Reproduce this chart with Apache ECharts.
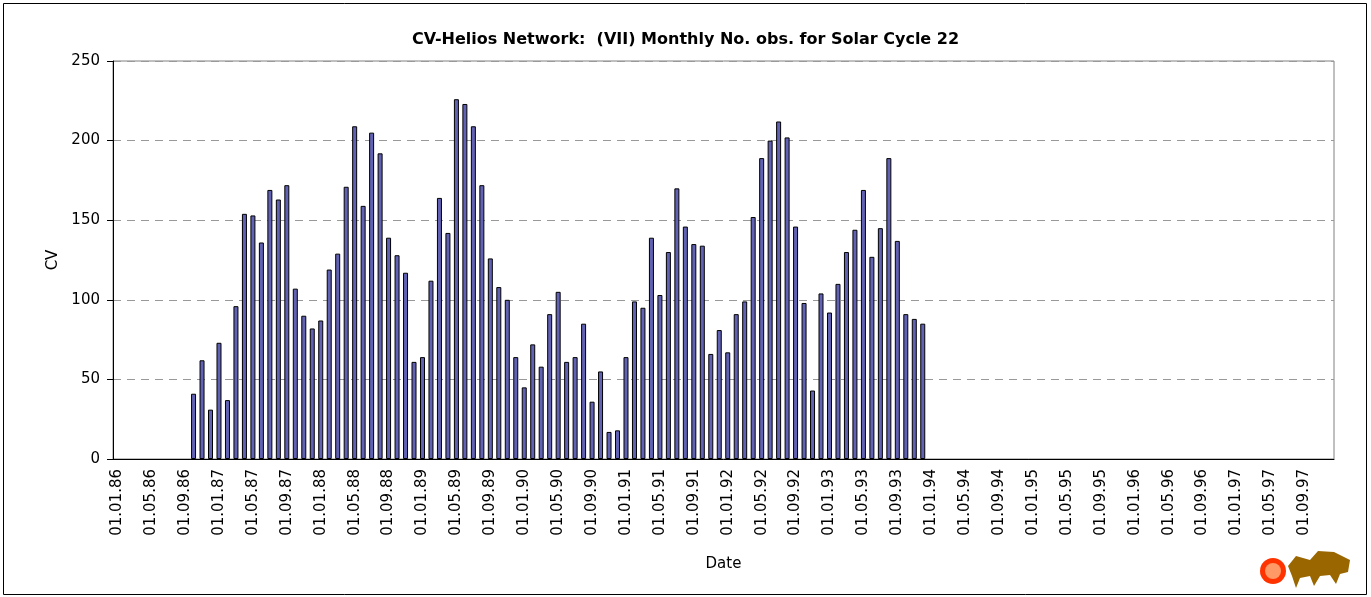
<!DOCTYPE html>
<html>
<head>
<meta charset="utf-8">
<script src="https://cdn.jsdelivr.net/npm/echarts@6/dist/echarts.min.js"></script>
<style>
  html, body { margin: 0; padding: 0; background: #fff; }
  #myChart { width: 1371px; height: 597px; }
</style>
</head>
<body>
<div id="myChart"></div>
<script>
// months on the axis: 01.01.86 .. 01.12.97
var years = ['86', '87', '88', '89', '90', '91', '92', '93', '94', '95', '96', '97'];
var months = ['01', '02', '03', '04', '05', '06', '07', '08', '09', '10', '11', '12'];

// first observed month is 10.86 (index 9 on the axis)
var firstIndex = 9;

// monthly number of observations, Oct 1986 .. Dec 1993
var obs = [
    41, 62, 31, 73, 37, 96, 154, 153, 136, 169, 163, 172,
    107, 90, 82, 87, 119, 129, 171, 209, 159, 205, 192, 139,
    128, 117, 61, 64, 112, 164, 142, 226, 223, 209, 172, 126,
    108, 100, 64, 45, 72, 58, 91, 105, 61, 64, 85, 36,
    55, 17, 18, 64, 99, 95, 139, 103, 130, 170, 146, 135,
    134, 66, 81, 67, 91, 99, 152, 189, 200, 212, 202, 146,
    98, 43, 104, 92, 110, 130, 144, 169, 127, 145, 189, 137,
    91, 88, 85
];

var yTicks = [0, 50, 100, 150, 200, 250];

var categories = [];
years.forEach(function (y) {
    months.forEach(function (m) {
        categories.push('01.' + m + '.' + y);
    });
});

var seriesData = categories.map(function (c, i) {
    var k = i - firstIndex;
    return (k >= 0 && k < obs.length) ? obs[k] : null;
});

var chart = echarts.init(document.getElementById('myChart'));
var font = 'DejaVu Sans, Verdana, sans-serif';

chart.setOption({
    animation: false,
    textStyle: { fontFamily: font },
    title: {
        text: 'CV-Helios Network:  (VII) Monthly No. obs. for Solar Cycle 22',
        left: 'center',
        top: 27,
        textStyle: { fontSize: 16, fontWeight: 'bold', color: '#000', fontFamily: font }
    },
    graphic: [
        {
            type: 'rect',
            shape: { x: 3.5, y: 3.5, width: 1363, height: 591 },
            style: { fill: 'none', stroke: '#000', lineWidth: 1 },
            silent: true
        },
        {
            type: 'circle',
            shape: { cx: 1273, cy: 571, r: 13 },
            style: { fill: '#ff3300' },
            silent: true
        },
        {
            type: 'circle',
            shape: { cx: 1273, cy: 571, r: 8 },
            style: { fill: '#ff9966' },
            silent: true
        },
        {
            type: 'polygon',
            shape: { points: [[1288, 566], [1296, 556], [1310, 560], [1318, 551], [1334, 552], [1350, 560], [1348, 572], [1340, 574], [1336, 584], [1330, 575], [1320, 576], [1314, 586], [1310, 576], [1300, 578], [1296, 588], [1292, 576]] },
            style: { fill: '#996600' },
            silent: true
        }
    ],
    grid: {
        left: 113,
        right: 37,
        top: 61,
        bottom: 138,
        show: true,
        borderColor: '#808080',
        borderWidth: 1,
        backgroundColor: '#fff'
    },
    xAxis: {
        type: 'category',
        data: categories,
        boundaryGap: true,
        name: 'Date',
        nameLocation: 'middle',
        nameGap: 98,
        nameTextStyle: { fontSize: 15, color: '#000', fontFamily: font },
        axisLine: { lineStyle: { color: '#000', width: 1 } },
        axisTick: { interval: 3, length: 5, lineStyle: { color: '#000' } },
        axisLabel: {
            interval: 3,
            rotate: 90,
            fontSize: 15,
            color: '#000',
            margin: 10,
            fontFamily: font
        },
        splitLine: { show: false }
    },
    yAxis: {
        type: 'value',
        min: yTicks[0],
        max: yTicks[yTicks.length - 1],
        interval: 50,
        name: 'CV',
        nameLocation: 'middle',
        nameGap: 48,
        nameTextStyle: { fontSize: 15, color: '#000', fontFamily: font },
        axisLine: { show: true, lineStyle: { color: '#000', width: 1 } },
        axisTick: { show: true, length: 6, lineStyle: { color: '#000' } },
        axisLabel: { fontSize: 15, color: '#000', margin: 13, fontFamily: font },
        splitLine: { show: true, lineStyle: { color: '#999', type: [8, 6], width: 1 } }
    },
    series: [
        {
            name: 'CV',
            type: 'bar',
            data: seriesData,
            barWidth: 5,
            itemStyle: {
                color: '#6262b4',
                borderColor: '#000',
                borderWidth: 1
            }
        }
    ]
});
</script>
</body>
</html>
